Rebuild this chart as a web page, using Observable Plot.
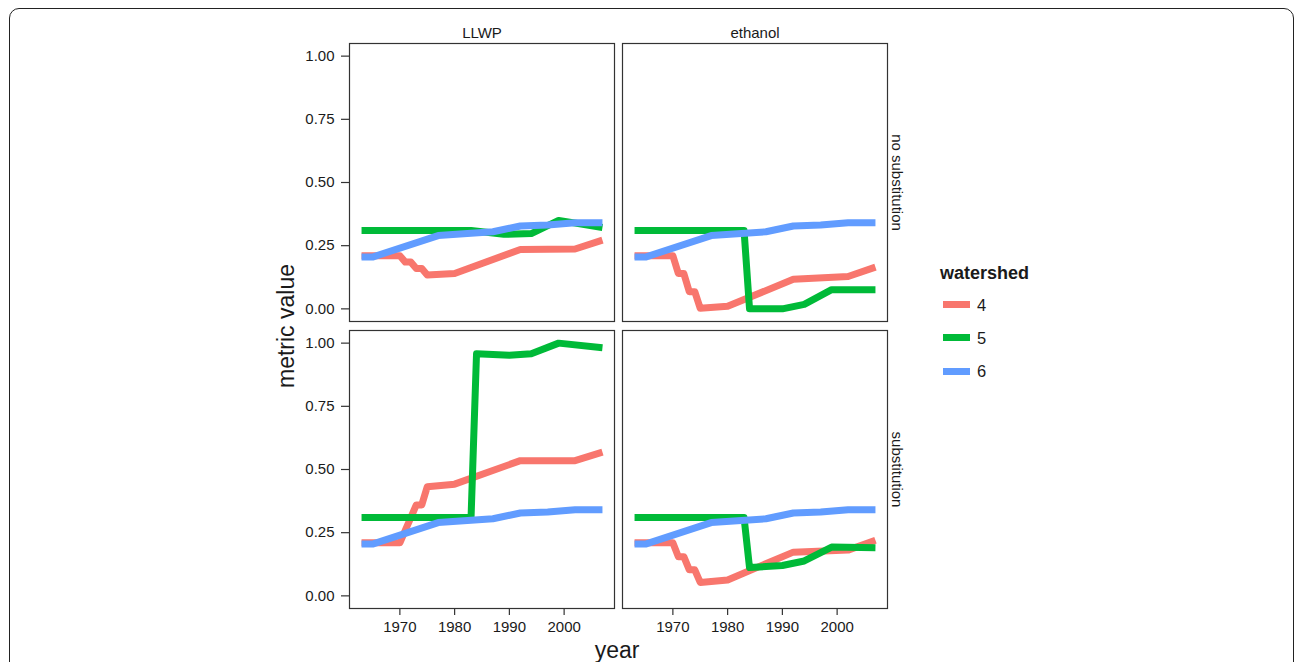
<!DOCTYPE html>
<html>
<head>
<meta charset="utf-8">
<script src="https://cdn.jsdelivr.net/npm/d3@7"></script>
<script src="https://cdn.jsdelivr.net/npm/@observablehq/plot@0.6"></script>
<style>
  html, body { margin: 0; padding: 0; background: #fff; }
  body { width: 1295px; height: 662px; position: relative; overflow: hidden;
         font-family: "Liberation Sans", Arial, Helvetica, sans-serif; color: #1a1a1a; }
  #frame { position: absolute; left: 9px; top: 8px; width: 1285px; height: 720px;
           border: 1.6px solid #222; border-radius: 10px; box-sizing: border-box; }
  #chart { position: absolute; left: 0; top: 0; }
  #ytitle { position: absolute; left: 286px; top: 326px; font-size: 23px; line-height: 23px;
            white-space: nowrap; transform: translate(-50%, -50%) rotate(-90deg); }
  #xtitle { position: absolute; left: 617px; top: 639px; font-size: 23px; line-height: 23px;
            white-space: nowrap; transform: translateX(-50%); }
  #legend { position: absolute; left: 940px; top: 263px; }
  #legend .title { font-weight: bold; font-size: 18px; line-height: 20px; margin-bottom: 5px; }
  #legend .item { display: flex; align-items: center; height: 33.3px; }
  #legend .sw { width: 27px; height: 7px; margin-left: 3px; margin-right: 7px; }
  #legend .lab { font-size: 16.5px; line-height: 16px; }
</style>
</head>
<body>
<div id="frame"></div>
<div id="chart"></div>
<div id="ytitle">metric value</div>
<div id="xtitle">year</div>
<div id="legend"></div>
<script>
// ---- categories ----
const substances = ["LLWP", "ethanol"];
const scenarios = ["no substitution", "substitution"];
const watersheds = ["4", "5", "6"];
const watershedColors = ["#F8766D", "#00BA38", "#619CFF"];
const legendTitle = "watershed";

// ---- tick labels ----
const xTicks = [1970, 1980, 1990, 2000];
const yTicks = [0, 0.25, 0.5, 0.75, 1];

// ---- watershed 4 ----
const ws4Years = [1963, 1970, 1971, 1972, 1973, 1974, 1975, 1980, 1992, 2002, 2007];
const llwpNoSub4 = [0.21, 0.21, 0.185, 0.185, 0.16, 0.16, 0.134, 0.14, 0.235, 0.237, 0.272];
const ethanolNoSub4 = [0.21, 0.21, 0.14, 0.14, 0.068, 0.068, 0.002, 0.01, 0.117, 0.128, 0.165];
const llwpSub4 = [0.21, 0.21, 0.26, 0.31, 0.36, 0.36, 0.432, 0.442, 0.535, 0.535, 0.569];
const ethanolSub4 = [0.21, 0.21, 0.155, 0.155, 0.103, 0.103, 0.053, 0.063, 0.173, 0.181, 0.22];

// ---- watershed 5 ----
const llwpNoSub5Years = [1963, 1983, 1989, 1994, 1999, 2007];
const llwpNoSub5 = [0.31, 0.31, 0.295, 0.298, 0.35, 0.322];
const ws5Years = [1963, 1983, 1984, 1990, 1994, 1999, 2007];
const ethanolNoSub5 = [0.31, 0.31, 0.0, 0.0, 0.018, 0.076, 0.076];
const llwpSub5 = [0.31, 0.31, 0.958, 0.952, 0.958, 1.0, 0.982];
const ethanolSub5 = [0.31, 0.31, 0.112, 0.12, 0.138, 0.193, 0.19];

// ---- watershed 6 (same in every panel) ----
const ws6Years = [1963, 1965, 1977, 1987, 1992, 1997, 2002, 2007];
const ws6Values = [0.205, 0.205, 0.29, 0.305, 0.328, 0.332, 0.341, 0.341];

// ---- assemble long table ----
const seriesList = [
  ["LLWP", "no substitution", "4", ws4Years, llwpNoSub4],
  ["LLWP", "no substitution", "5", llwpNoSub5Years, llwpNoSub5],
  ["LLWP", "no substitution", "6", ws6Years, ws6Values],
  ["ethanol", "no substitution", "4", ws4Years, ethanolNoSub4],
  ["ethanol", "no substitution", "5", ws5Years, ethanolNoSub5],
  ["ethanol", "no substitution", "6", ws6Years, ws6Values],
  ["LLWP", "substitution", "4", ws4Years, llwpSub4],
  ["LLWP", "substitution", "5", ws5Years, llwpSub5],
  ["LLWP", "substitution", "6", ws6Years, ws6Values],
  ["ethanol", "substitution", "4", ws4Years, ethanolSub4],
  ["ethanol", "substitution", "5", ws5Years, ethanolSub5],
  ["ethanol", "substitution", "6", ws6Years, ws6Values]
];
const rows = [];
for (const [substance, scenario, watershed, years, values] of seriesList) {
  years.forEach((year, i) => rows.push({substance, scenario, watershed, year, value: values[i]}));
}

const textColor = "#1a1a1a";
const chart = Plot.plot({
  width: 1295,
  height: 662,
  marginLeft: 348,
  marginRight: 408,
  marginTop: 43,
  marginBottom: 53,
  style: {fontFamily: "'Liberation Sans', Arial, Helvetica, sans-serif", background: "transparent", color: textColor},
  x: {domain: [1960.8, 2009.2]},
  y: {domain: [-0.05, 1.05]},
  fx: {domain: substances, paddingInner: 0.031, paddingOuter: 0},
  fy: {domain: scenarios, paddingInner: 0.031, paddingOuter: 0},
  color: {domain: watersheds, range: watershedColors},
  marks: [
    Plot.line(rows, {
      x: "year", y: "value", z: "watershed", stroke: "watershed",
      fx: "substance", fy: "scenario",
      strokeWidth: 7, strokeLinejoin: "round", strokeLinecap: "butt"
    }),
    Plot.frame({stroke: "#333", strokeWidth: 1.2}),
    Plot.axisX({anchor: "bottom", ticks: xTicks, tickFormat: d => String(d), tickSize: 7, tickPadding: 6,
                fontSize: 15, label: null, stroke: "#333", strokeWidth: 1.2}),
    Plot.axisY({anchor: "left", ticks: yTicks, tickFormat: d => d.toFixed(2), tickSize: 8, tickPadding: 7,
                fontSize: 15, label: null, stroke: "#333", strokeWidth: 1.2}),
    Plot.axisFx({anchor: "top", tickSize: 0, tickPadding: 6, fontSize: 15, label: null}),
    Plot.axisFy({anchor: "right", tickSize: 0, tickPadding: 4, tickRotate: 90,
                 textAnchor: "middle", lineAnchor: "bottom", fontSize: 15, label: null})
  ]
});
document.getElementById("chart").appendChild(chart);

// ---- legend ----
const legend = document.getElementById("legend");
const t = document.createElement("div");
t.className = "title";
t.textContent = legendTitle;
legend.appendChild(t);
watersheds.forEach((w, i) => {
  const item = document.createElement("div");
  item.className = "item";
  const sw = document.createElement("div");
  sw.className = "sw";
  sw.style.background = watershedColors[i];
  const lab = document.createElement("div");
  lab.className = "lab";
  lab.textContent = w;
  item.appendChild(sw);
  item.appendChild(lab);
  legend.appendChild(item);
});
</script>
</body>
</html>
